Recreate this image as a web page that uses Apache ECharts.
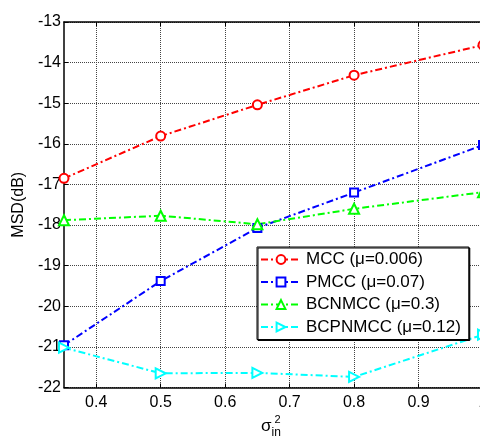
<!DOCTYPE html>
<html>
<head>
<meta charset="utf-8">
<script src="https://cdn.jsdelivr.net/npm/echarts@6/dist/echarts.min.js"></script>
<style>
html,body{margin:0;padding:0;background:#fff;}
#c{width:480px;height:440px;}
</style>
</head>
<body>
<div id="c"></div>
<script>
const sigma = [0.35, 0.5, 0.65, 0.8, 1.0];
const mcc = [-16.85, -15.81, -15.04, -14.31, -13.57];
const pmcc = [-20.96, -19.38, -18.07, -17.20, -16.03];
const bcnmcc = [-17.88, -17.77, -17.98, -17.60, -17.19];
const bcpnmcc = [-21.02, -21.65, -21.64, -21.74, -20.70];
const seriesNames = ['MCC (\u03bc=0.006)', 'PMCC (\u03bc=0.07)', 'BCNMCC (\u03bc=0.3)', 'BCPNMCC (\u03bc=0.12)'];
const xTicks = [0.4, 0.5, 0.6, 0.7, 0.8, 0.9, 1.0];
const yMin = -22, yMax = -13;

const pairs = ys => sigma.map((x, i) => [x, ys[i]]);
const FONT = 'Liberation Sans, Arial, sans-serif';
const dashDot = [7, 3, 2, 3];

function mk(name, ys, color, symbol, size, rot) {
  return {
    name, type: 'line', data: pairs(ys),
    symbol, symbolSize: size, symbolRotate: rot || 0,
    lineStyle: { color, width: 2, type: dashDot },
    itemStyle: { color, borderColor: color, borderWidth: 2 },
    emphasis: { disabled: true }, animation: false
  };
}

const chart = echarts.init(document.getElementById('c'), null, { renderer: 'canvas' });
chart.setOption({
  backgroundColor: '#fff',
  animation: false,
  grid: { left: 64, top: 22, width: 419, bottom: 52.5, show: false, outerBoundsMode: 'none', containLabel: false },
  xAxis: [{
    type: 'value', min: 0.35, max: 1.0, position: 'bottom',
    axisLine: { show: true, onZero: false, lineStyle: { color: '#000', width: 1.5 } },
    axisTick: { show: true, inside: true, length: 4, customValues: xTicks, lineStyle: { color: '#000' } },
    axisLabel: { customValues: xTicks, margin: 7, color: '#000', fontSize: 16, fontFamily: FONT,
      formatter: v => (Math.abs(v - 1) < 1e-9 ? '1' : v.toFixed(1)) },
    splitLine: { show: true, lineStyle: { color: '#444', width: 1, type: [1, 1] } }
  }, {
    type: 'value', min: 0.35, max: 1.0, position: 'top',
    axisLine: { show: true, onZero: false, lineStyle: { color: '#000', width: 1.5 } },
    axisTick: { show: true, inside: true, length: 4, customValues: xTicks, lineStyle: { color: '#000' } },
    axisLabel: { show: false }, splitLine: { show: false }
  }],
  yAxis: {
    type: 'value', min: yMin, max: yMax, interval: 1,
    name: 'MSD(dB)', nameLocation: 'middle', nameGap: 37, nameRotate: 90,
    nameTextStyle: { color: '#000', fontSize: 16, fontFamily: FONT },
    axisLine: { show: true, onZero: false, lineStyle: { color: '#000', width: 1.5 } },
    axisTick: { show: true, inside: true, length: 4, lineStyle: { color: '#000' } },
    axisLabel: { margin: 3, color: '#000', fontSize: 16, fontFamily: FONT },
    splitLine: { show: true, lineStyle: { color: '#444', width: 1, type: [1, 1] } }
  },
  legend: {
    orient: 'vertical', left: 257, top: 247,
    data: seriesNames,
    itemWidth: 40, itemHeight: 11, itemGap: 5.5,
    padding: [4, 8, 4, 3],
    backgroundColor: '#fff', borderColor: '#000', borderWidth: 1,
    shadowColor: '#000', shadowOffsetX: 1, shadowOffsetY: 1, shadowBlur: 0,
    textStyle: { color: '#000', fontSize: 17, fontFamily: FONT, lineHeight: 17 },
    selectedMode: false
  },
  graphic: [
    { type: 'text', left: 261, top: 418, style: { text: '\u03c3', fontSize: 17, fontFamily: FONT, fill: '#000' } },
    { type: 'text', left: 274.5, top: 414, style: { text: '2', fontSize: 11, fontFamily: FONT, fill: '#000' } },
    { type: 'text', left: 271.5, top: 427, style: { text: 'in', fontSize: 12, fontFamily: FONT, fill: '#000' } }
  ],
  series: [
    mk(seriesNames[0], mcc, '#ff0000', 'emptyCircle', 9),
    mk(seriesNames[1], pmcc, '#0000ff', 'emptyRect', 8),
    mk(seriesNames[2], bcnmcc, '#00ff00', 'emptyTriangle', 10),
    mk(seriesNames[3], bcpnmcc, '#00ffff', 'emptyTriangle', 10, -90)
  ]
});
</script>
</body>
</html>
